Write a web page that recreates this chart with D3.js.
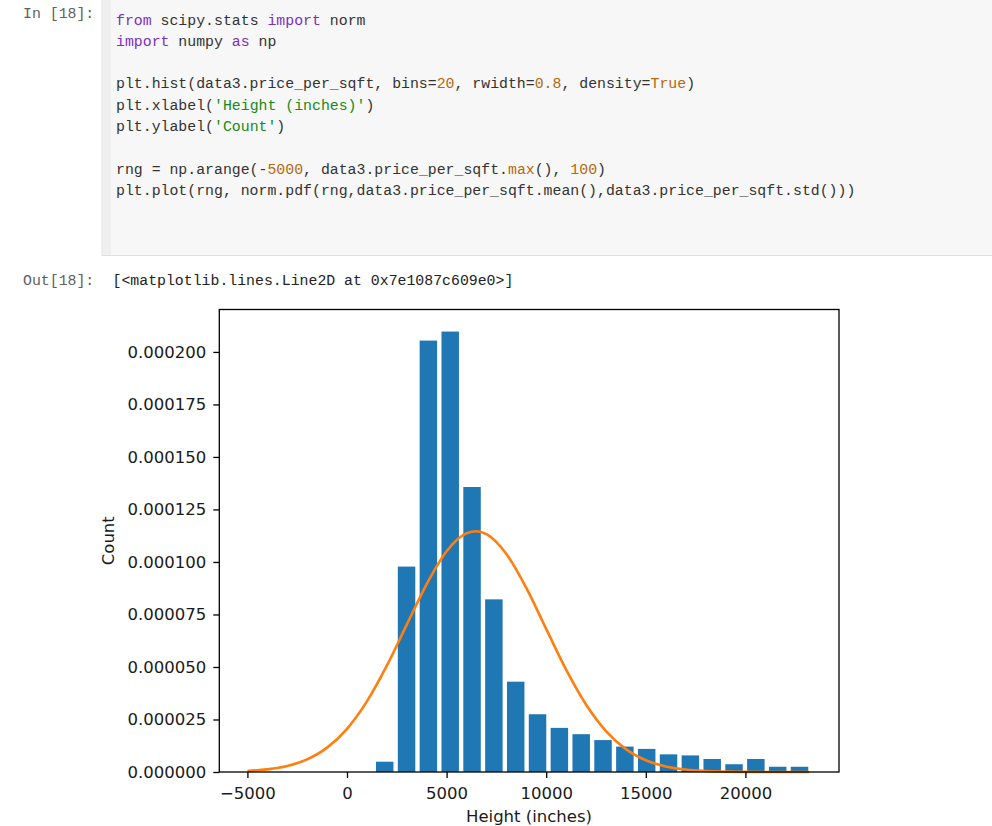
<!DOCTYPE html>
<html>
<head>
<meta charset="utf-8">
<script src="https://cdn.jsdelivr.net/npm/d3@7"></script>
<style>
  html, body { margin: 0; padding: 0; background: #fff; }
  svg { display: block; }
  .mono { font-family: "Liberation Mono", "DejaVu Sans Mono", monospace; font-size: 14.85px; white-space: pre; }
  .chart text { font-family: "DejaVu Sans", sans-serif; font-size: 16.5px; fill: #1a1a1a; }
</style>
</head>
<body>
<svg id="page" width="992" height="826"></svg>
<script>
// ---------------- data ----------------
const binEdges = [1345, 2441, 3537, 4633, 5729, 6825, 7921, 9017, 10113, 11209, 12305,
                  13401, 14497, 15593, 16689, 17785, 18881, 19977, 21073, 22169, 23265];
const densities = [4.9e-6, 9.78e-5, 2.054e-4, 2.097e-4, 1.357e-4, 8.22e-5, 4.30e-5, 2.75e-5,
                   2.10e-5, 1.80e-5, 1.52e-5, 1.21e-5, 1.10e-5, 8.4e-6, 7.9e-6, 6.2e-6,
                   3.7e-6, 6.2e-6, 2.5e-6, 2.5e-6];
const rwidth = 0.8;
const curveX = [-5000, -4000, -3000, -2000, -1000, 0, 1000, 2000, 3000, 4000, 5000, 6000, 6500,
                7000, 8000, 9000, 10000, 11000, 12000, 13000, 14000, 15000, 16000, 17000, 18000,
                19000, 20000, 21000, 22000, 23000, 23200];
const curveY = [5.11e-7, 1.263e-6, 2.871e-6, 6.012e-6, 1.1593e-5, 2.0577e-5, 3.3633e-5, 5.061e-5,
                7.014e-5, 8.948e-5, 1.0511e-4, 1.1369e-4, 1.1463e-4, 1.1322e-4, 1.0381e-4,
                8.765e-5, 6.813e-5, 4.877e-5, 3.214e-5, 1.950e-5, 1.0895e-5, 5.605e-6, 2.655e-6,
                1.158e-6, 4.65e-7, 1.72e-7, 5.9e-8, 1.8e-8, 5e-9, 1e-9, 1e-9];
const xTicks = [-5000, 0, 5000, 10000, 15000, 20000];
const yTicks = [0, 0.000025, 0.00005, 0.000075, 0.0001, 0.000125, 0.00015, 0.000175, 0.0002];
const xDomain = [-6411, 24699];
const yDomain = [0, 0.0002202];

const codeLines = [
  [["kw","from"],["","  scipy.stats "],["kw","import"],[""," norm"]],
  [["kw","import"],[""," numpy "],["kw","as"],[""," np"]],
  [],
  [["","plt.hist(data3.price_per_sqft, bins="],["num","20"],["",", rwidth="],["num","0.8"],["",", density="],["num","True"],["",")"]],
  [["","plt.xlabel("],["str","'Height (inches)'"],["",")"]],
  [["","plt.ylabel("],["str","'Count'"],["",")"]],
  [],
  [["","rng = np.arange(-"],["num","5000"],["",", data3.price_per_sqft."],["num","max"],["","(), "],["num","100"],["",")"]],
  [["","plt.plot(rng, norm.pdf(rng,data3.price_per_sqft.mean(),data3.price_per_sqft.std()))"]]
];
// fix first token spacing
codeLines[0][1][1] = " scipy.stats ";
const colors = { "": "#333333", kw: "#7d2fbf", num: "#b3690e", str: "#178a17" };

// ---------------- notebook chrome ----------------
const svg = d3.select("#page");
svg.append("rect").attr("x", 102).attr("y", -2).attr("width", 892).attr("height", 257.5)
   .attr("fill", "#f7f7f7").attr("stroke", "#e0e0e0").attr("stroke-width", 1);
svg.append("rect").attr("x", 102.5).attr("y", -2).attr("width", 8.5).attr("height", 257)
   .attr("fill", "#efefef");

svg.append("text").attr("class", "mono").attr("x", 23).attr("y", 17.5)
   .attr("fill", "#616161").text("In [18]:");
svg.append("text").attr("class", "mono").attr("x", 23).attr("y", 285)
   .attr("fill", "#616161").text("Out[18]:");
svg.append("text").attr("class", "mono").attr("x", 112.5).attr("y", 285)
   .attr("fill", "#222").text("[<matplotlib.lines.Line2D at 0x7e1087c609e0>]");

const lineH = 21.3;
codeLines.forEach((tokens, i) => {
  if (!tokens.length) return;
  const t = svg.append("text").attr("class", "mono").attr("x", 116).attr("y", 24.5 + i * lineH);
  tokens.forEach(([cls, s]) => t.append("tspan").attr("fill", colors[cls]).text(s));
});

// ---------------- chart ----------------
const x = d3.scaleLinear().domain(xDomain).range([219.3, 839]);
const y = d3.scaleLinear().domain(yDomain).range([772, 309.5]);
const g = svg.append("g").attr("class", "chart");

const bins = densities.map((d, i) => ({ x0: binEdges[i], x1: binEdges[i + 1], v: d }));
g.selectAll("rect.bar").data(bins).join("rect").attr("class", "bar")
  .attr("x", d => x(d.x0 + (1 - rwidth) / 2 * (d.x1 - d.x0)))
  .attr("width", d => x(d.x0 + rwidth * (d.x1 - d.x0)) - x(d.x0))
  .attr("y", d => y(d.v))
  .attr("height", d => y(0) - y(d.v))
  .attr("fill", "#1f77b4");

const line = d3.line().x((d, i) => x(curveX[i])).y(d => y(d)).curve(d3.curveMonotoneX);
g.append("path").attr("d", line(curveY)).attr("fill", "none")
  .attr("stroke", "#ff7f0e").attr("stroke-width", 2.6).attr("stroke-linejoin", "round");

// axes
const xAxis = d3.axisBottom(x).tickValues(xTicks).tickSize(6).tickPadding(9)
  .tickFormat(d3.format("d"));
const gx = g.append("g").attr("transform", "translate(0,772)").call(xAxis);
const yAxis = d3.axisLeft(y).tickValues(yTicks).tickSize(6).tickPadding(7)
  .tickFormat(d3.format(".6f"));
const gy = g.append("g").attr("transform", "translate(219.3,0)").call(yAxis);
[gx, gy].forEach(a => {
  a.select(".domain").remove();
  a.selectAll("line").attr("stroke", "#000").attr("stroke-width", 1.3);
  a.selectAll("text").attr("font-family", "DejaVu Sans").attr("font-size", 16.5).attr("fill", "#1a1a1a");
});
gx.selectAll("text").text(d => d3.format("d")(d).replace("-", "\u2212"));

// spines
g.append("rect").attr("x", 219.3).attr("y", 309.5).attr("width", 839 - 219.3).attr("height", 772 - 309.5)
  .attr("fill", "none").attr("stroke", "#000").attr("stroke-width", 1.3);

// labels
g.append("text").attr("x", 529).attr("y", 822).attr("text-anchor", "middle").text("Height (inches)");
g.append("text").attr("transform", "translate(114,540.7) rotate(-90)").attr("text-anchor", "middle").text("Count");
</script>
</body>
</html>
